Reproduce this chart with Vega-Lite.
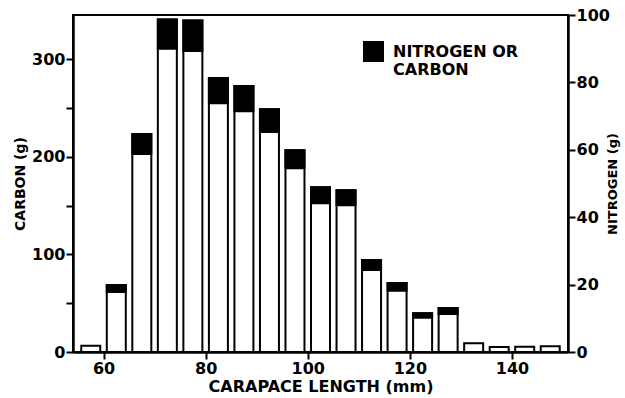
{
  "$schema": "https://vega.github.io/schema/vega-lite/v6.json",
  "width": 495,
  "height": 337,
  "autosize": {"type": "none"},
  "padding": {"left": 73, "top": 15, "right": 57, "bottom": 46},
  "background": "white",
  "config": {
    "view": {"stroke": "black", "strokeWidth": 2},
    "font": "DejaVu Sans",
    "axis": {
      "grid": false,
      "domainColor": "black",
      "domainWidth": 2.5,
      "tickColor": "black",
      "tickWidth": 2,
      "tickSize": 7,
      "labelColor": "black",
      "labelFont": "DejaVu Sans",
      "labelFontWeight": "bold",
      "labelFontSize": 16,
      "labelPadding": 1,
      "titleColor": "black",
      "titleFont": "DejaVu Sans",
      "titleFontWeight": "bold",
      "titleFontSize": 14
    }
  },
  "data": {
    "values": [
      {"length": 57.5, "lower": 6.5, "total": 6.5},
      {"length": 62.5, "lower": 61.5, "total": 68.7},
      {"length": 67.5, "lower": 203, "total": 223.6},
      {"length": 72.5, "lower": 311, "total": 341},
      {"length": 77.5, "lower": 308.7, "total": 340},
      {"length": 82.5, "lower": 255, "total": 281},
      {"length": 87.5, "lower": 247, "total": 272.8},
      {"length": 92.5, "lower": 225.6, "total": 249},
      {"length": 97.5, "lower": 188.4, "total": 206.9},
      {"length": 102.5, "lower": 152.5, "total": 168.9},
      {"length": 107.5, "lower": 150.5, "total": 166},
      {"length": 112.5, "lower": 84, "total": 94.4},
      {"length": 117.5, "lower": 62.9, "total": 70.8},
      {"length": 122.5, "lower": 35.2, "total": 39.7},
      {"length": 127.5, "lower": 39, "total": 45},
      {"length": 132.5, "lower": 8.9, "total": 8.9},
      {"length": 137.5, "lower": 5.1, "total": 5.1},
      {"length": 142.5, "lower": 5.4, "total": 5.4},
      {"length": 147.5, "lower": 6, "total": 6}
    ]
  },
  "layer": [
    {
      "layer": [
        {
          "mark": {"type": "bar", "size": 19, "fill": "white", "stroke": "black", "strokeWidth": 2},
          "encoding": {
            "x": {
              "field": "length", "type": "quantitative",
              "scale": {"domain": [55, 150], "nice": false, "zero": false},
              "axis": {"values": [60, 80, 100, 120, 140], "title": "CARAPACE LENGTH (mm)", "titleFontSize": 16, "titlePadding": 2}
            },
            "y": {
              "field": "total", "type": "quantitative",
              "scale": {"domain": [0, 345.6], "nice": false},
              "axis": {
                "values": [0, 50, 100, 150, 200, 250, 300],
                "labelExpr": "datum.value % 100 == 0 ? datum.label : ''",
                "title": "CARBON (g)",
                "titlePadding": 4
              }
            }
          }
        },
        {
          "transform": [{"filter": "datum.total > datum.lower"}],
          "mark": {"type": "bar", "size": 19, "stroke": "black", "strokeWidth": 2},
          "encoding": {
            "x": {"field": "length", "type": "quantitative"},
            "y": {"field": "lower", "type": "quantitative"},
            "y2": {"field": "total"},
            "color": {
              "datum": "NITROGEN OR CARBON",
              "scale": {"range": ["black"]},
              "legend": {
                "orient": "none",
                "legendX": 290,
                "legendY": 26,
                "title": null,
                "padding": 0,
                "symbolType": "square",
                "symbolSize": 441,
                "symbolFillColor": "black",
                "symbolStrokeWidth": 0,
                "symbolOpacity": 1,
                "labelFont": "DejaVu Sans",
                "labelFontWeight": "bold",
                "labelFontSize": 16,
                "labelColor": "black",
                "labelOffset": 9,
                "labelLimit": 300,
                "labelExpr": "['NITROGEN  OR', 'CARBON']"
              }
            }
          }
        }
      ]
    },
    {
      "mark": {"type": "point", "opacity": 0, "clip": true},
      "encoding": {
        "x": {"field": "length", "type": "quantitative"},
        "y": {
          "field": "total", "type": "quantitative",
          "scale": {"domain": [0, 100], "nice": false},
          "axis": {
            "orient": "right",
            "values": [0, 20, 40, 60, 80, 100],
            "title": "NITROGEN (g)",
            "titleAngle": 270,
            "titleFontSize": 13,
            "titlePadding": 10
          }
        }
      }
    }
  ],
  "resolve": {"scale": {"y": "independent"}}
}
